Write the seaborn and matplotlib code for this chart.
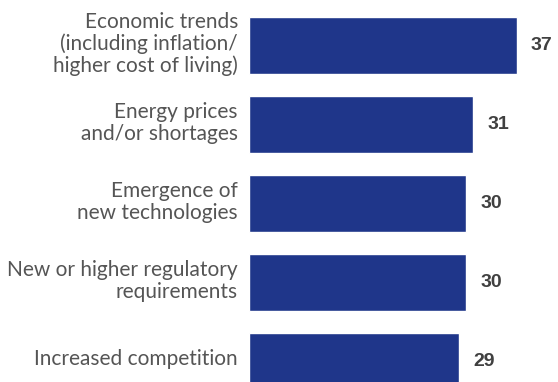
import matplotlib
matplotlib.use("Agg")
import matplotlib.pyplot as plt
import matplotlib.transforms as mtransforms
import seaborn as sns
import pandas as pd

categories = ["Economic trends\n(including inflation/\nhigher cost of living)",
              "Energy prices\nand/or shortages",
              "Emergence of\nnew technologies",
              "New or higher regulatory\nrequirements",
              "Increased competition"]
values = [37, 31, 30, 30, 29]

df = pd.DataFrame({"cat": categories, "val": values})

sns.set_style("white")
plt.rcParams['font.family'] = ['Lato', 'DejaVu Sans']

fig = plt.figure(figsize=(5.58, 3.82), dpi=100)
ax = fig.add_axes([249/558, 0, (553-249)/558, 1])
sns.barplot(data=df, x="val", y="cat", color="#1f368a", width=0.72, ax=ax,
            saturation=1, orient="h")
ax.set_xlim(0, 42)
ax.set_ylim(4.26, -0.576)
ax.set_xlabel("")
ax.set_ylabel("")
ax.set_xticks([])
ax.tick_params(axis="y", length=0, pad=8, labelsize=15, labelcolor="#555555")
offset = mtransforms.ScaledTranslation(0, 3/72, fig.dpi_scale_trans)
for lab in ax.get_yticklabels():
    lab.set_horizontalalignment("right")
    lab.set_multialignment("right")
    lab.set_linespacing(1.08)
    lab.set_transform(lab.get_transform() + offset)
for s in ax.spines.values():
    s.set_visible(False)
for i, v in enumerate(values):
    ax.text(v + 1.95, i, str(v), va="center", ha="left", fontsize=14,
            fontweight="bold", color="#404040", family=["Liberation Sans", "DejaVu Sans"])
fig.savefig("out.png", dpi=100)
